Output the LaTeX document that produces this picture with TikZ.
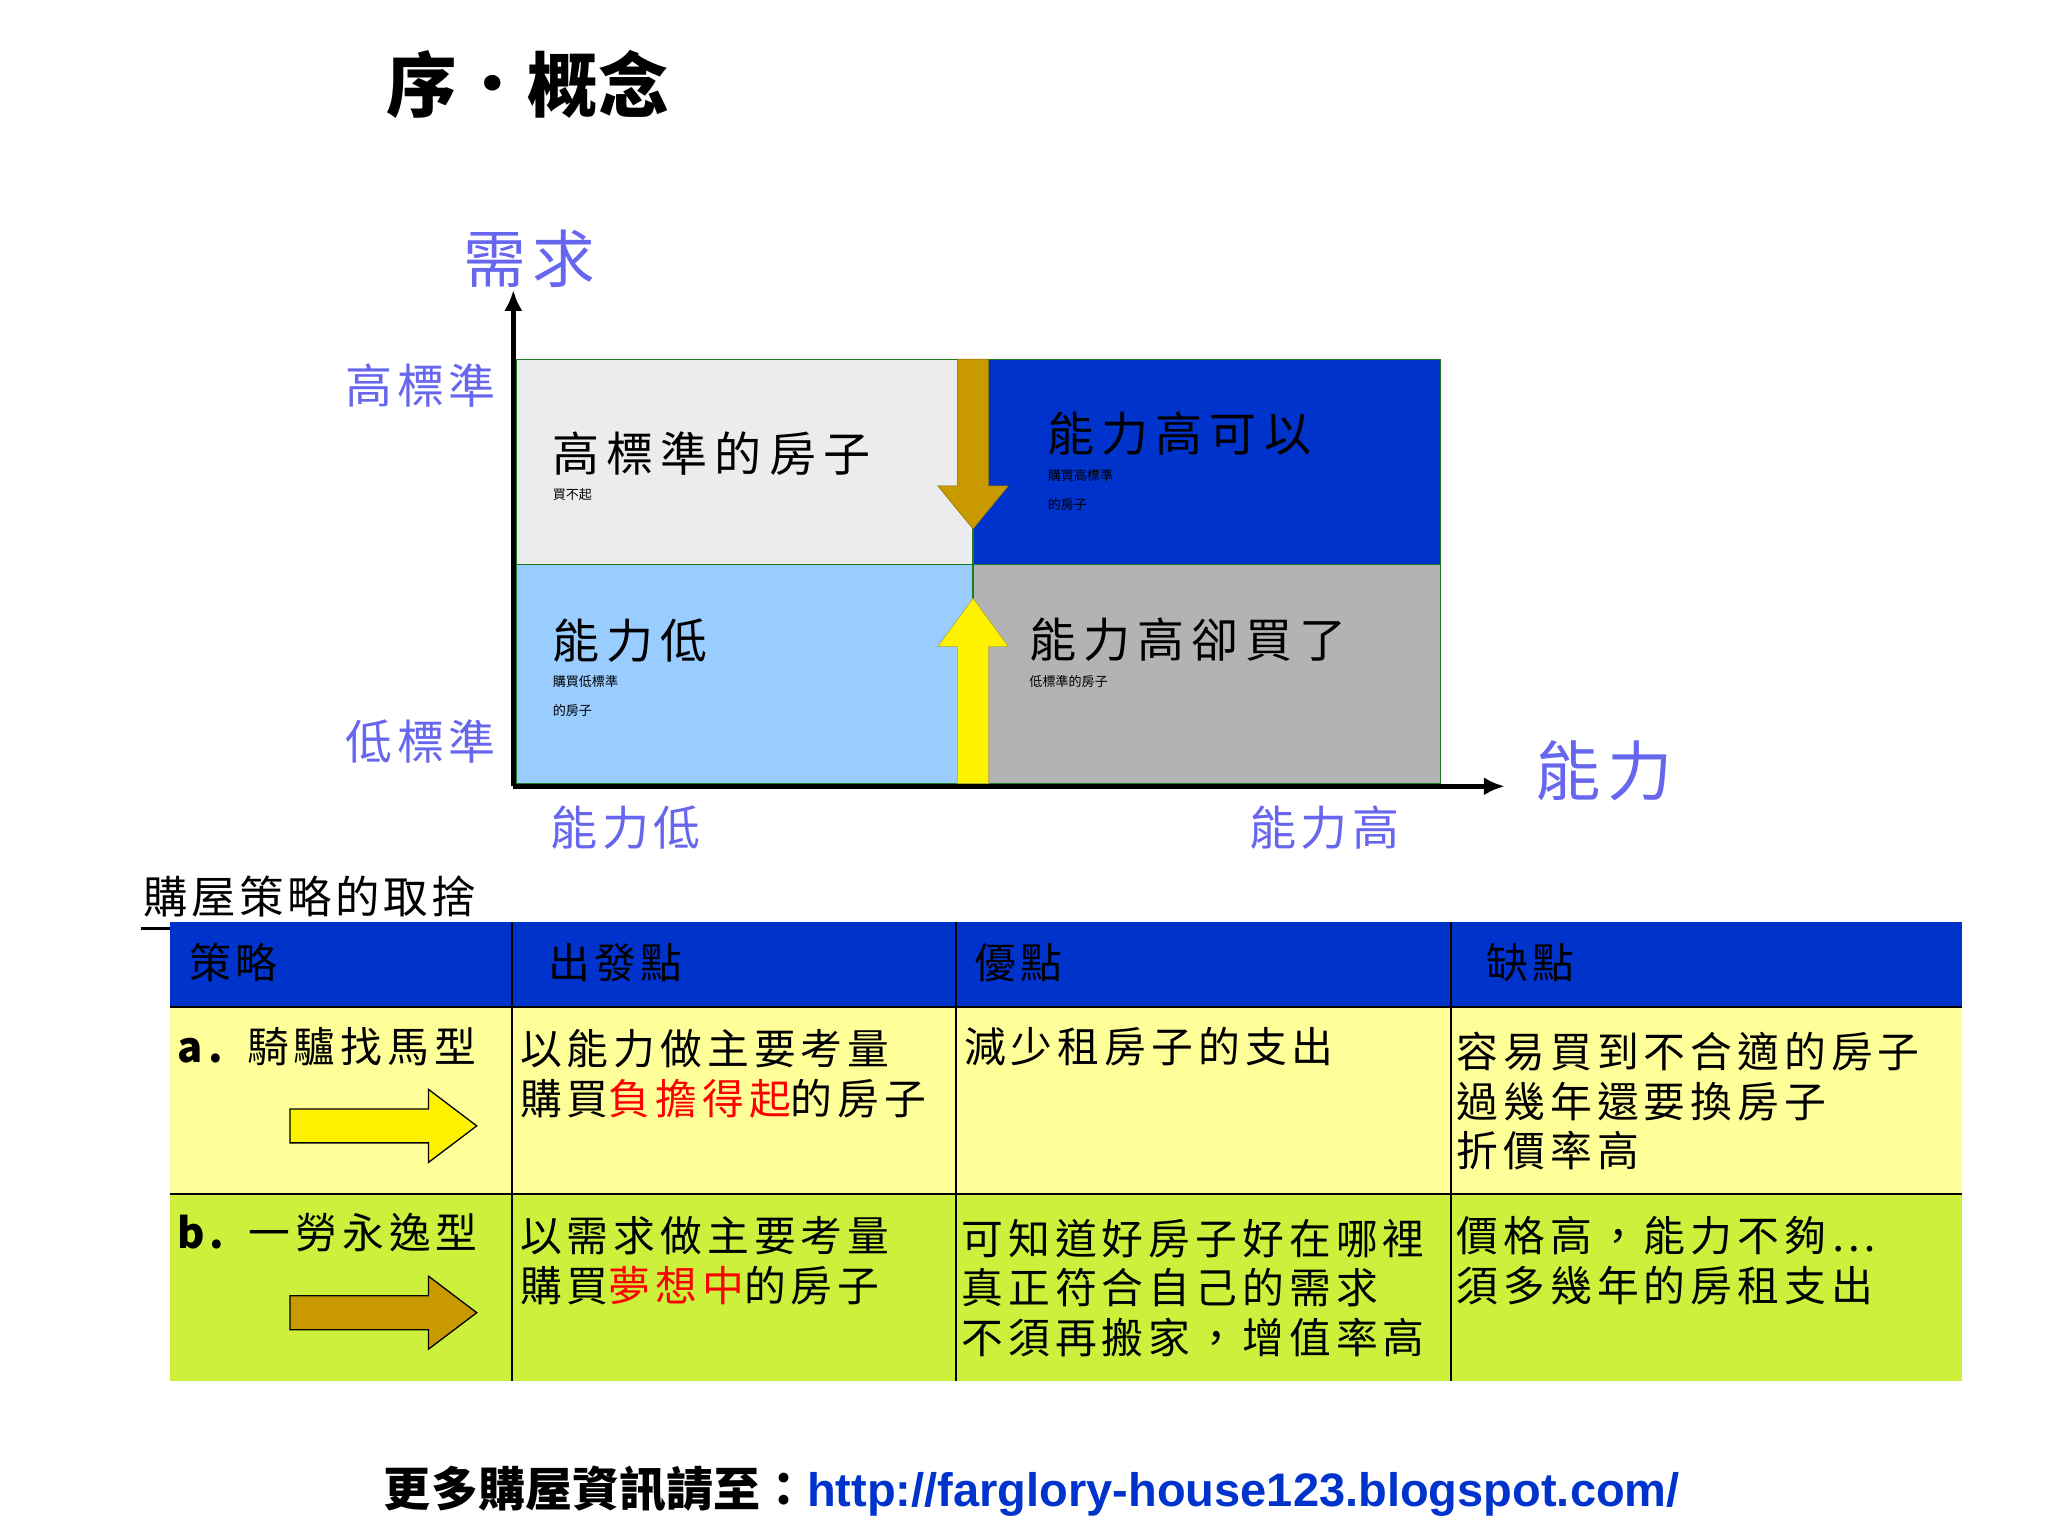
\documentclass[tikz,border=0pt]{standalone}
\usepackage{fontspec}
\setmainfont{Noto Sans CJK TC}
\usetikzlibrary{shapes.arrows}
\definecolor{vio}{HTML}{6666EE}
\definecolor{dblue}{HTML}{0033CC}
\definecolor{brn}{HTML}{C89A00}
\definecolor{gbord}{HTML}{1E7A1E}
\definecolor{lyel}{HTML}{FFFF99}
\definecolor{lime}{HTML}{CCF03C}
\newcommand{\fs}[1]{\fontsize{#1}{#1}\selectfont}
\tikzset{x=1pt,y=-1pt,
 txt/.style={anchor=west,inner sep=0pt,align=left},
 q/.style={draw=gbord,line width=1pt},
 ax/.style={line width=3.5pt,-{Latex[length=16pt,width=14pt]}},
 lab/.style={inner sep=0pt,text=vio}}
\usetikzlibrary{arrows.meta}
\begin{document}
\begin{tikzpicture}
\useasboundingbox[fill=white] (0,0) rectangle (1568,1176);
\node[txt] (title) at (296,65) {\fs{54}\bfseries 序．概念};
% quadrants
\fill[q,fill={rgb,255:red,236;green,236;blue,238}] (395,275) rectangle (745,432);
\fill[q,fill=dblue] (745,275) rectangle (1103,432);
\fill[q,fill={rgb,255:red,153;green,204;blue,255}] (395,432) rectangle (745,600);
\fill[q,fill={rgb,255:red,179;green,179;blue,181}] (745,432) rectangle (1103,600);
% arrows
\draw[fill=brn,draw=brn!70!black] (733,275)--(757,275)--(757,372)--(772,372)--(745,405)--(718,372)--(733,372)--cycle;
\draw[fill=yellow,draw=yellow!60!black] (733,600)--(757,600)--(757,495)--(772,495)--(745,458)--(718,495)--(733,495)--cycle;
% axes
\coordinate (o) at (393,602);
\coordinate (ytop) at (393,222);
\coordinate (xend) at (1152,602);
\draw[ax] (o)--(ytop);
\draw[ax] (o)--(xend);
% quadrant text
\node[txt] (t1) at (423,357) {\fs{36}\addfontfeature{LetterSpace=15}高標準的房子\\[10pt]買不起};
\node[txt] (t2) at (802,353) {\fs{36}\addfontfeature{LetterSpace=15}能力高可以\\[10pt]購買高標準\\[10pt]的房子};
\node[txt] (t3) at (423,511) {\fs{36}\addfontfeature{LetterSpace=15}能力低\\[10pt]購買低標準\\[10pt]的房子};
\node[txt] (t4) at (788,500) {\fs{36}\addfontfeature{LetterSpace=15}能力高卻買了\\[10pt]低標準的房子};
% axis labels
\node[lab] (need) at (405,198) {\fs{48}\addfontfeature{LetterSpace=10}需求};
\node[lab] (hi) at (322,295) {\fs{36}\addfontfeature{LetterSpace=10}高標準};
\node[lab] (lo) at (322,568) {\fs{36}\addfontfeature{LetterSpace=10}低標準};
\node[lab] (al) at (479,634) {\fs{36}\addfontfeature{LetterSpace=10}能力低};
\node[lab] (ah) at (1014,634) {\fs{36}\addfontfeature{LetterSpace=10}能力高};
\node[lab] (ab) at (1228,590) {\fs{50}\addfontfeature{LetterSpace=10}能力};
% table title
\node[txt] (tt) at (110,686) {\fs{34}\addfontfeature{LetterSpace=8}購屋策略的取捨};
\draw[line width=2pt] (108,711)--(405,711);
% table
\fill[dblue] (130,706) rectangle (1502,771);
\fill[lyel] (130,771) rectangle (1502,914);
\fill[lime] (130,914) rectangle (1502,1057);
\draw[line width=1.2pt] (130,914)--(1502,914);
\draw[line width=1pt] (130,771)--(1502,771);
\foreach \x in {392,732,1111} \draw[line width=1.2pt] (\x,706)--(\x,1057);
\tikzset{h/.style={txt,font=\fs{32}\addfontfeature{LetterSpace=10}},c/.style={txt,font=\fs{32}\addfontfeature{LetterSpace=12}}}
\node[h] (h1) at (145,737) {策略};
\node[h] (h2) at (420,737) {出發點};
\node[h] (h3) at (746,737) {優點};
\node[h] (h4) at (1138,737) {缺點};
\node[c] (a1) at (136,801) {\textbf{a.} 騎驢找馬型};
\node[c] (a2) at (398,822) {以能力做主要考量\\[6pt]購買\textcolor{red}{負擔得起}的房子};
\node[c] (a3) at (738,801) {減少租房子的支出};
\node[c] (a4) at (1115,843) {容易買到不合適的房子\\[6pt]過幾年還要換房子\\[6pt]折價率高};
\node[c] (b1) at (136,944) {\textbf{b.} 一勞永逸型};
\node[c] (b2) at (398,965) {以需求做主要考量\\[6pt]購買\textcolor{red}{夢想中}的房子};
\node[c] (b3) at (736,986) {可知道好房子好在哪裡\\[6pt]真正符合自己的需求\\[6pt]不須再搬家，增值率高};
\node[c] (b4) at (1115,965) {價格高，能力不夠…\\[6pt]須多幾年的房租支出};
\draw[fill=yellow,line width=1pt] (222,849)--(328,849)--(328,834)--(365,862)--(328,890)--(328,875)--(222,875)--cycle;
\draw[fill=brn,line width=1pt] (222,992)--(328,992)--(328,977)--(365,1005)--(328,1033)--(328,1018)--(222,1018)--cycle;
% footer
\node[inner sep=0pt] (foot) at (790,1142) {\fs{36}\bfseries 更多購屋資訊請至：\textcolor{dblue}{\fontspec{Liberation Sans}\bfseries http://farglory-house123.blogspot.com/}};
\end{tikzpicture}
\end{document}
